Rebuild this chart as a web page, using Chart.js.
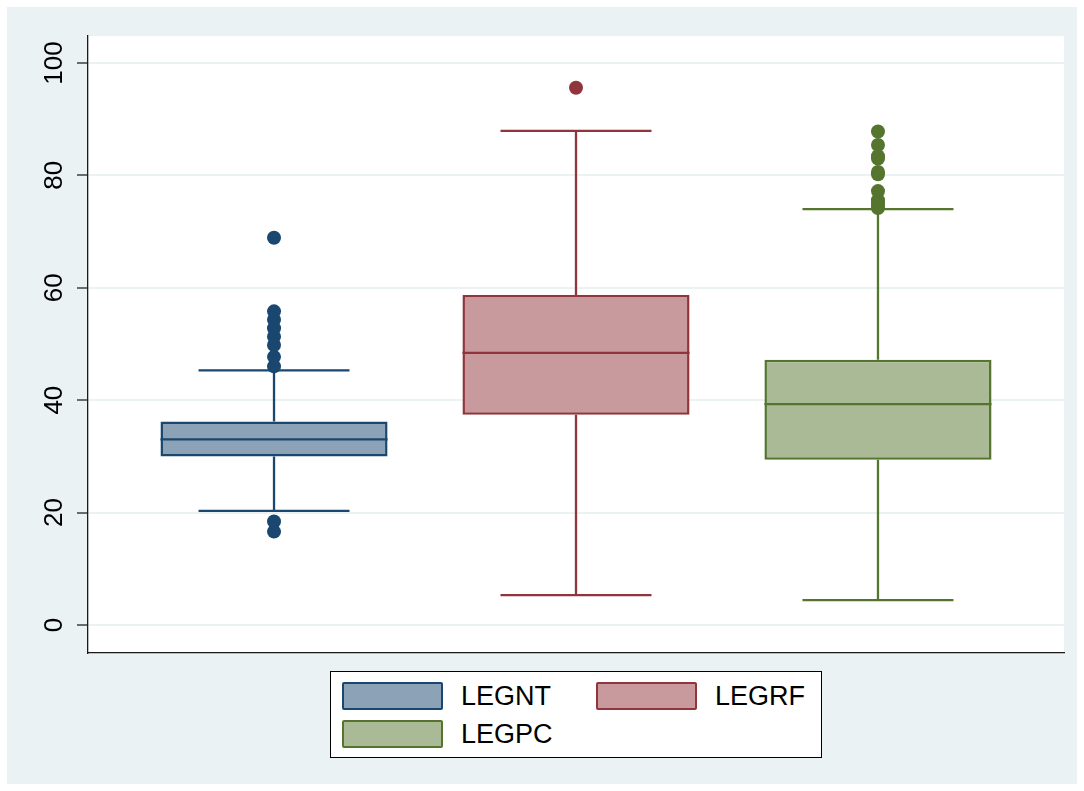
<!DOCTYPE html>
<html>
<head>
<meta charset="utf-8">
<title>Box plots</title>
<script src="https://cdn.jsdelivr.net/npm/chart.js@4/dist/chart.umd.min.js"></script>
<style>
  html, body { margin: 0; padding: 0; background: #ffffff; }
  #frame { position: absolute; left: 7px; top: 7px; width: 1070px; height: 777px; background: #EAF2F3; }
  #chart { position: absolute; left: 0; top: 0; }
  #legend {
    position: absolute; left: 323px; top: 664px; width: 490px; height: 85px;
    background: #ffffff; border: 1px solid #000000;
    font-family: 'Liberation Sans', Arial, sans-serif; font-size: 27px; color: #000000;
  }
  .item { position: absolute; display: flex; align-items: center; height: 28px; line-height: 28px; white-space: nowrap; }
  .swatch { width: 101px; height: 28px; box-sizing: border-box; border: 2.5px solid; border-radius: 2px; margin-right: 18px; }
</style>
</head>
<body>
<div id="frame">
  <canvas id="chart" width="1070" height="777"></canvas>
  <div id="legend"></div>
</div>
<script>
// Groups and their five-number summaries
const categories   = ['LEGNT', 'LEGRF', 'LEGPC'];
const whiskerLow   = [20.3, 5.3, 4.4];
const quartile1    = [29.95, 37.4, 29.4];
const medians      = [33.0, 48.4, 39.3];
const quartile3    = [36.2, 58.7, 47.2];
const whiskerHigh  = [45.3, 87.9, 74.0];

// Points beyond the whiskers
const outliersNT = [16.6, 18.4, 46.0, 47.7, 49.8, 51.3, 52.8, 54.3, 55.8, 68.9];
const outliersRF = [95.6];
const outliersPC = [74.2, 74.7, 75.3, 75.6, 77.2, 80.2, 80.6, 83.0, 83.4, 85.4, 87.8];

// Y axis tick values
const yTickValues = [0, 20, 40, 60, 80, 100];

// Styling
const lineColors = ['#1A476F', '#90353B', '#55752F'];
const fillColors = ['#8CA3B7', '#C89A9D', '#AABA97'];
const BOX_WIDTH = 0.752;   // in x-axis units (groups are 1 unit apart)
const CAP_WIDTH = 0.5;

Chart.defaults.font.family = "'Liberation Sans', Arial, sans-serif";

const outlierLists = [outliersNT, outliersRF, outliersPC];

function whiskerPath(i) {
  const c = i + 1, hb = BOX_WIDTH / 2, hc = CAP_WIDTH / 2;
  return [
    { x: c - hc, y: whiskerLow[i] }, { x: c + hc, y: whiskerLow[i] }, { x: c, y: null },
    { x: c, y: whiskerLow[i] },      { x: c, y: quartile1[i] },      { x: c, y: null },
    { x: c, y: quartile3[i] },       { x: c, y: whiskerHigh[i] },    { x: c, y: null },
    { x: c - hc, y: whiskerHigh[i] },{ x: c + hc, y: whiskerHigh[i] },{ x: c, y: null },
    { x: c - hb, y: medians[i] },    { x: c + hb, y: medians[i] }
  ];
}

const datasets = [];

// Interquartile boxes as floating bars
datasets.push({
  type: 'bar',
  label: 'boxes',
  data: categories.map((name, i) => ({ x: i + 1, y: [quartile1[i], quartile3[i]] })),
  backgroundColor: fillColors,
  borderColor: lineColors,
  borderWidth: 2.5,
  borderSkipped: false,
  categoryPercentage: 1,
  barPercentage: BOX_WIDTH,
  order: 3
});

// Whiskers, caps and median lines
categories.forEach((name, i) => {
  datasets.push({
    type: 'line',
    label: name + ' whiskers',
    data: whiskerPath(i),
    borderColor: lineColors[i],
    borderWidth: 2.3,
    borderCapStyle: 'butt',
    pointRadius: 0,
    pointHoverRadius: 0,
    spanGaps: false,
    fill: false,
    tension: 0,
    order: 2
  });
});

// Outlying observations
categories.forEach((name, i) => {
  datasets.push({
    type: 'scatter',
    label: name + ' outliers',
    data: outlierLists[i].map(v => ({ x: i + 1, y: v })),
    backgroundColor: lineColors[i],
    borderWidth: 0,
    pointRadius: 7,
    pointHoverRadius: 7,
    order: 1
  });
});

// White plot region behind the grid
const plotBackground = {
  id: 'plotBackground',
  beforeDraw(chart) {
    const { ctx, chartArea: a } = chart;
    ctx.save();
    ctx.fillStyle = '#ffffff';
    ctx.fillRect(a.left, a.top, a.right - a.left, a.bottom - a.top);
    ctx.restore();
  }
};

new Chart(document.getElementById('chart'), {
  type: 'bar',
  data: { datasets },
  plugins: [plotBackground],
  options: {
    responsive: false,
    animation: false,
    devicePixelRatio: 1,
    layout: { padding: { left: 0, top: 29, right: 13, bottom: 131 } },
    plugins: { legend: { display: false }, tooltip: { enabled: false } },
    scales: {
      x: {
        type: 'linear',
        min: 0.384,
        max: 3.616,
        offset: false,
        afterBuildTicks: scale => { scale.ticks = categories.map((name, i) => ({ value: i + 1 })); },
        grid: { display: false, drawTicks: false },
        ticks: { display: false },
        border: { display: true, color: '#1a1a1a', width: 1.3 }
      },
      y: {
        type: 'linear',
        min: -5,
        max: 104.8,
        afterBuildTicks: scale => { scale.ticks = yTickValues.map(v => ({ value: v })); },
        afterFit: scale => { scale.width = 81; },
        grid: { color: '#EAF2F3', lineWidth: 2, tickColor: '#222222', tickLength: 11, tickWidth: 1.3 },
        border: { display: true, color: '#1a1a1a', width: 1.3 },
        ticks: {
          minRotation: 90, maxRotation: 90, crossAlign: 'center', padding: 0,
          color: '#000000', font: { size: 26 }
        }
      }
    }
  }
});

// Legend keys
const legend = document.getElementById('legend');
const slots = [{ left: 11, top: 10 }, { left: 265, top: 10 }, { left: 11, top: 48 }];
categories.forEach((name, i) => {
  const item = document.createElement('div');
  item.className = 'item';
  item.style.left = slots[i].left + 'px';
  item.style.top = slots[i].top + 'px';
  const sw = document.createElement('div');
  sw.className = 'swatch';
  sw.style.background = fillColors[i];
  sw.style.borderColor = lineColors[i];
  const txt = document.createElement('span');
  txt.textContent = name;
  item.appendChild(sw);
  item.appendChild(txt);
  legend.appendChild(item);
});
</script>
</body>
</html>
